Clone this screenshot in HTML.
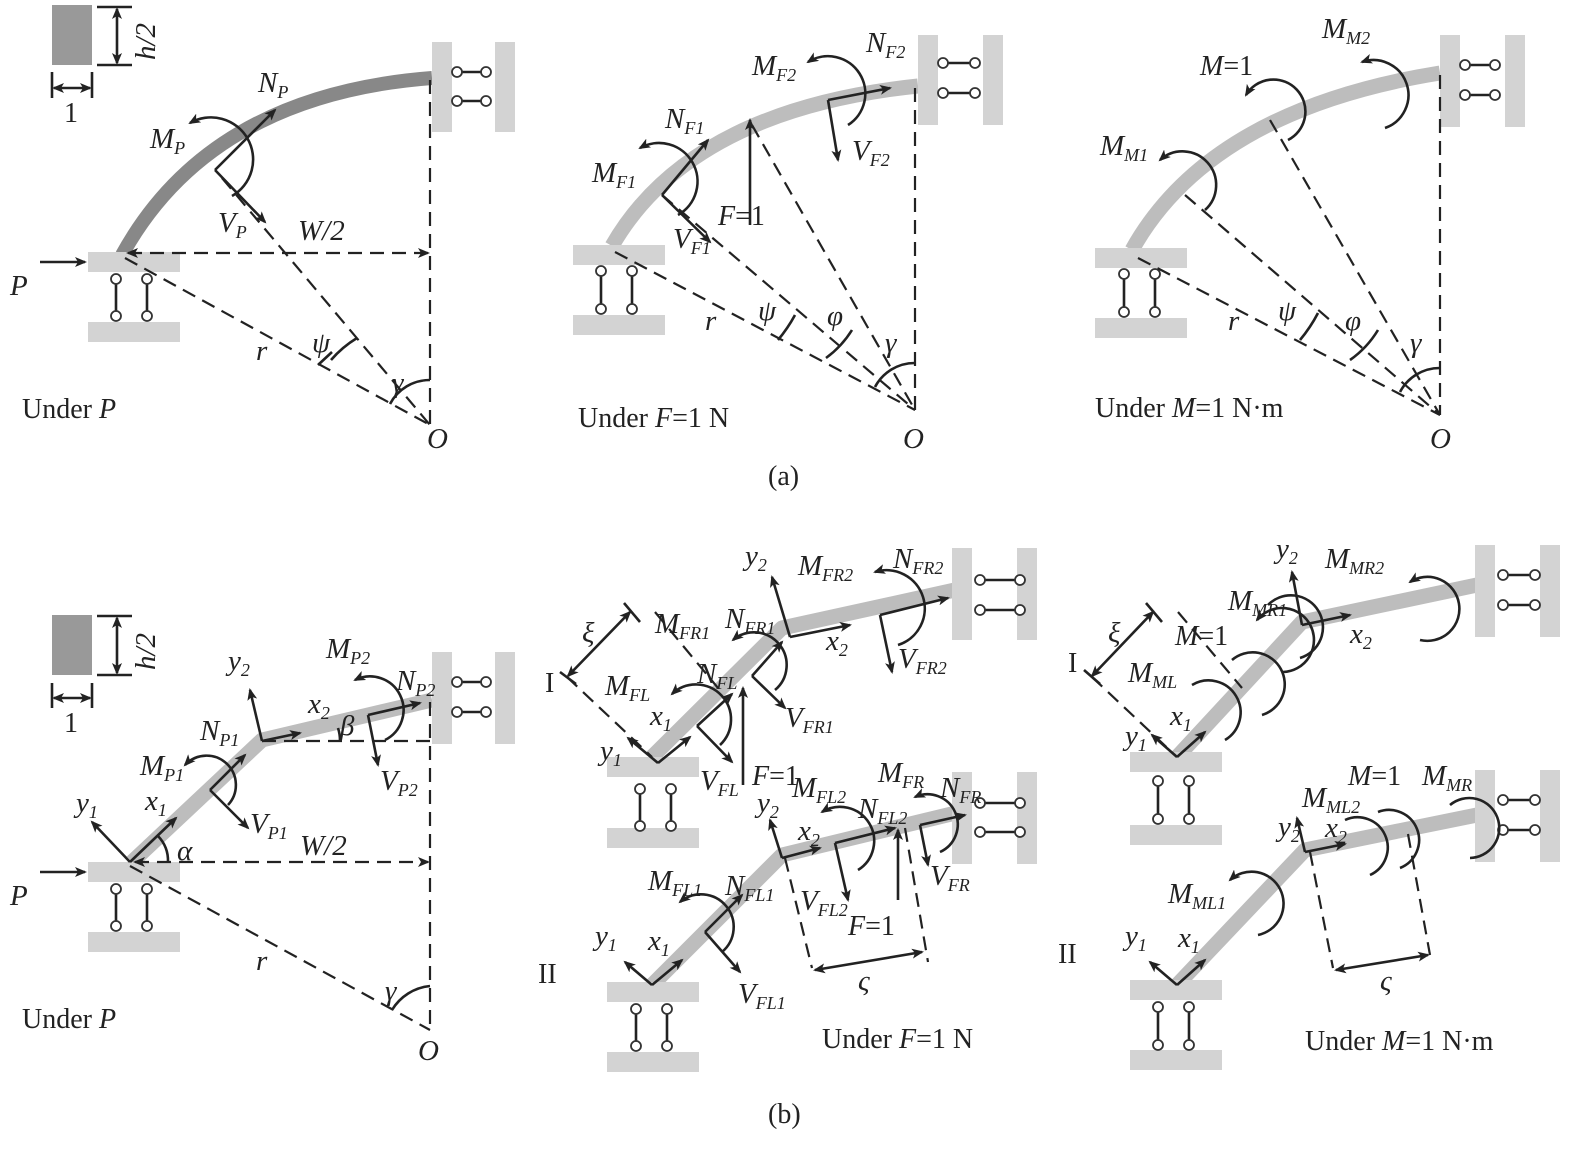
<!DOCTYPE html>
<html><head><meta charset="utf-8"><style>
body{margin:0;background:#fff}
svg{display:block}
.t{font-family:"Liberation Serif",serif;font-style:italic;font-size:29px;fill:#222}
.u{font-family:"Liberation Serif",serif;font-size:28px;fill:#222}
.s{font-size:18px}
.d{stroke:#222;stroke-width:2.2;stroke-dasharray:14 8;fill:none}
.l{stroke:#222;stroke-width:2.6;fill:none}
.g{fill:#d3d3d3}
.c{fill:#fff;stroke:#333;stroke-width:1.8}
.beam{stroke:#bdbdbd;stroke-width:15;fill:none;stroke-linejoin:round}
</style></head><body>
<svg width="1582" height="1150" viewBox="0 0 1582 1150" xmlns="http://www.w3.org/2000/svg">
<defs>
<marker id="a" markerWidth="12" markerHeight="10" refX="10" refY="5" orient="auto" markerUnits="userSpaceOnUse"><path d="M0,0 L12,5 L0,10 L3,5z" fill="#222"/></marker>
<marker id="b" markerWidth="12" markerHeight="10" refX="2" refY="5" orient="auto" markerUnits="userSpaceOnUse"><path d="M12,0 L0,5 L12,10 L9,5z" fill="#222"/></marker>
</defs>

<!-- ===== (a) left ===== -->
<rect x="52" y="5" width="40" height="60" fill="#999"/>
<line x1="97" y1="7" x2="132" y2="7" class="l" stroke-width="2"/><line x1="97" y1="65" x2="132" y2="65" class="l" stroke-width="2"/>
<line x1="117" y1="9" x2="117" y2="63" class="l" marker-start="url(#b)" marker-end="url(#a)" stroke-width="2"/>
<text class="t" transform="translate(155,60) rotate(-90)">h/2</text>
<line x1="52" y1="72" x2="52" y2="98" class="l" stroke-width="2"/><line x1="92" y1="72" x2="92" y2="98" class="l" stroke-width="2"/>
<line x1="54" y1="88" x2="90" y2="88" class="l" stroke-width="2" marker-start="url(#b)" marker-end="url(#a)"/>
<text class="u" x="64" y="122">1</text>
<path d="M122,255 Q210,95 432,78" stroke="#888" stroke-width="14" fill="none"/>
<rect x="88" y="252" width="92" height="20" class="g"/><rect x="88" y="322" width="92" height="20" class="g"/>
<line x1="116" y1="280" x2="116" y2="315" class="l" stroke-width="2"/><line x1="147" y1="280" x2="147" y2="315" class="l" stroke-width="2"/>
<circle cx="116" cy="279" r="5" class="c"/><circle cx="147" cy="279" r="5" class="c"/><circle cx="116" cy="316" r="5" class="c"/><circle cx="147" cy="316" r="5" class="c"/>
<rect x="432" y="42" width="20" height="90" class="g"/><rect x="495" y="42" width="20" height="90" class="g"/>
<line x1="457" y1="72" x2="486" y2="72" class="l" stroke-width="2"/><line x1="457" y1="101" x2="486" y2="101" class="l" stroke-width="2"/>
<circle cx="457" cy="72" r="5" class="c"/><circle cx="486" cy="72" r="5" class="c"/><circle cx="457" cy="101" r="5" class="c"/><circle cx="486" cy="101" r="5" class="c"/>
<line x1="430" y1="80" x2="430" y2="425" class="d"/>
<line x1="128" y1="253" x2="428" y2="253" class="d" marker-start="url(#b)" marker-end="url(#a)"/>
<line x1="125" y1="258" x2="430" y2="425" class="d"/>
<line x1="222" y1="178" x2="430" y2="425" class="d"/>
<line x1="40" y1="262" x2="85" y2="262" class="l" marker-end="url(#a)"/>
<text class="t" x="10" y="295">P</text>
<line x1="215" y1="170" x2="275" y2="110" class="l" marker-end="url(#a)"/>
<line x1="215" y1="170" x2="265" y2="222" class="l" marker-end="url(#a)"/>
<path d="M232,196 A30,30 0 1,0 190,123" class="l" marker-end="url(#a)"/>
<text class="t" x="258" y="92">N<tspan class="s" dy="6">P</tspan></text>
<text class="t" x="150" y="148">M<tspan class="s" dy="6">P</tspan></text>
<text class="t" x="218" y="232">V<tspan class="s" dy="6">P</tspan></text>
<text class="t" x="298" y="240">W/2</text>
<text class="t" x="256" y="360">r</text>
<text class="t" x="312" y="352">ψ</text>
<text class="t" x="392" y="392">γ</text>
<line x1="318" y1="365" x2="332" y2="352" class="l"/>
<path d="M331,360 A110,110 0 0,1 357,338" class="l"/>
<path d="M390,404 A45,45 0 0,1 430,380" class="l"/>
<text class="t" x="427" y="448">O</text>
<text class="u" x="22" y="418">Under <tspan font-style="italic">P</tspan></text>

<!-- ===== (a) middle ===== -->
<path d="M612,246 Q690,110 918,86" class="beam"/>
<rect x="573" y="245" width="92" height="20" class="g"/><rect x="573" y="315" width="92" height="20" class="g"/>
<line x1="601" y1="272" x2="601" y2="308" class="l" stroke-width="2"/><line x1="632" y1="272" x2="632" y2="308" class="l" stroke-width="2"/>
<circle cx="601" cy="271" r="5" class="c"/><circle cx="632" cy="271" r="5" class="c"/><circle cx="601" cy="309" r="5" class="c"/><circle cx="632" cy="309" r="5" class="c"/>
<rect x="918" y="35" width="20" height="90" class="g"/><rect x="983" y="35" width="20" height="90" class="g"/>
<line x1="943" y1="63" x2="975" y2="63" class="l" stroke-width="2"/><line x1="943" y1="93" x2="975" y2="93" class="l" stroke-width="2"/>
<circle cx="943" cy="63" r="5" class="c"/><circle cx="975" cy="63" r="5" class="c"/><circle cx="943" cy="93" r="5" class="c"/><circle cx="975" cy="93" r="5" class="c"/>
<line x1="915" y1="88" x2="915" y2="410" class="d"/>
<line x1="615" y1="252" x2="915" y2="410" class="d"/>
<line x1="662" y1="195" x2="915" y2="410" class="d"/>
<line x1="752" y1="125" x2="915" y2="410" class="d"/>
<line x1="662" y1="195" x2="708" y2="140" class="l" marker-end="url(#a)"/>
<line x1="662" y1="195" x2="710" y2="242" class="l" marker-end="url(#a)"/>
<path d="M678,215 A26,26 0 1,0 640,148" class="l" marker-end="url(#a)"/>
<line x1="750" y1="225" x2="750" y2="120" class="l" marker-end="url(#a)"/>
<line x1="828" y1="100" x2="890" y2="88" class="l" marker-end="url(#a)"/>
<line x1="828" y1="100" x2="838" y2="160" class="l" marker-end="url(#a)"/>
<path d="M848,125 A30,30 0 1,0 808,62" class="l" marker-end="url(#a)"/>
<text class="t" x="665" y="128">N<tspan class="s" dy="6">F1</tspan></text>
<text class="t" x="592" y="182">M<tspan class="s" dy="6">F1</tspan></text>
<text class="t" x="673" y="248">V<tspan class="s" dy="6">F1</tspan></text>
<text class="u" x="718" y="225"><tspan font-style="italic">F</tspan>=1</text>
<text class="t" x="752" y="75">M<tspan class="s" dy="6">F2</tspan></text>
<text class="t" x="866" y="52">N<tspan class="s" dy="6">F2</tspan></text>
<text class="t" x="852" y="160">V<tspan class="s" dy="6">F2</tspan></text>
<text class="t" x="705" y="330">r</text>
<text class="t" x="758" y="320">ψ</text>
<text class="t" x="827" y="325">φ</text>
<text class="t" x="885" y="352">γ</text>
<path d="M778,340 A150,150 0 0,0 795,315" class="l"/>
<path d="M826,358 A100,100 0 0,0 852,330" class="l"/>
<path d="M875,387 A45,45 0 0,1 915,363" class="l"/>
<text class="t" x="903" y="448">O</text>
<text class="u" x="578" y="427">Under <tspan font-style="italic">F</tspan>=1 N</text>
<text class="u" x="768" y="485">(a)</text>

<!-- ===== (a) right ===== -->
<path d="M1132,250 Q1210,110 1440,73" class="beam"/>
<rect x="1095" y="248" width="92" height="20" class="g"/><rect x="1095" y="318" width="92" height="20" class="g"/>
<line x1="1124" y1="275" x2="1124" y2="311" class="l" stroke-width="2"/><line x1="1155" y1="275" x2="1155" y2="311" class="l" stroke-width="2"/>
<circle cx="1124" cy="274" r="5" class="c"/><circle cx="1155" cy="274" r="5" class="c"/><circle cx="1124" cy="312" r="5" class="c"/><circle cx="1155" cy="312" r="5" class="c"/>
<rect x="1440" y="35" width="20" height="92" class="g"/><rect x="1505" y="35" width="20" height="92" class="g"/>
<line x1="1465" y1="65" x2="1495" y2="65" class="l" stroke-width="2"/><line x1="1465" y1="95" x2="1495" y2="95" class="l" stroke-width="2"/>
<circle cx="1465" cy="65" r="5" class="c"/><circle cx="1495" cy="65" r="5" class="c"/><circle cx="1465" cy="95" r="5" class="c"/><circle cx="1495" cy="95" r="5" class="c"/>
<line x1="1440" y1="75" x2="1440" y2="415" class="d"/>
<line x1="1138" y1="258" x2="1440" y2="415" class="d"/>
<line x1="1185" y1="195" x2="1440" y2="415" class="d"/>
<line x1="1270" y1="120" x2="1440" y2="415" class="d"/>
<path d="M1205,210 A32,32 0 1,0 1160,160" class="l" marker-end="url(#a)"/>
<path d="M1288,140 A32,32 0 1,0 1246,95" class="l" marker-end="url(#a)"/>
<path d="M1385,128 A32,32 0 1,0 1362,62" class="l" marker-end="url(#a)"/>
<text class="t" x="1100" y="155">M<tspan class="s" dy="6">M1</tspan></text>
<text class="u" x="1200" y="75"><tspan font-style="italic">M</tspan>=1</text>
<text class="t" x="1322" y="38">M<tspan class="s" dy="6">M2</tspan></text>
<text class="t" x="1228" y="330">r</text>
<text class="t" x="1278" y="320">ψ</text>
<text class="t" x="1345" y="330">φ</text>
<text class="t" x="1410" y="352">γ</text>
<path d="M1300,340 A150,150 0 0,0 1318,313" class="l"/>
<path d="M1350,360 A100,100 0 0,0 1378,330" class="l"/>
<path d="M1400,392 A45,45 0 0,1 1440,368" class="l"/>
<text class="t" x="1430" y="448">O</text>
<text class="u" x="1095" y="417">Under <tspan font-style="italic">M</tspan>=1 N·m</text>

<!-- ===== (b) left ===== -->
<rect x="52" y="615" width="40" height="60" fill="#999"/>
<line x1="97" y1="616" x2="132" y2="616" class="l" stroke-width="2"/><line x1="97" y1="675" x2="132" y2="675" class="l" stroke-width="2"/>
<line x1="117" y1="618" x2="117" y2="673" class="l" marker-start="url(#b)" marker-end="url(#a)" stroke-width="2"/>
<text class="t" transform="translate(155,670) rotate(-90)">h/2</text>
<line x1="52" y1="683" x2="52" y2="708" class="l" stroke-width="2"/><line x1="92" y1="683" x2="92" y2="708" class="l" stroke-width="2"/>
<line x1="54" y1="698" x2="90" y2="698" class="l" stroke-width="2" marker-start="url(#b)" marker-end="url(#a)"/>
<text class="u" x="64" y="732">1</text>
<polyline points="132,862 262,740 432,700" class="beam"/>
<rect x="88" y="862" width="92" height="20" class="g"/><rect x="88" y="932" width="92" height="20" class="g"/>
<line x1="116" y1="890" x2="116" y2="925" class="l" stroke-width="2"/><line x1="147" y1="890" x2="147" y2="925" class="l" stroke-width="2"/>
<circle cx="116" cy="889" r="5" class="c"/><circle cx="147" cy="889" r="5" class="c"/><circle cx="116" cy="926" r="5" class="c"/><circle cx="147" cy="926" r="5" class="c"/>
<rect x="432" y="652" width="20" height="92" class="g"/><rect x="495" y="652" width="20" height="92" class="g"/>
<line x1="457" y1="682" x2="486" y2="682" class="l" stroke-width="2"/><line x1="457" y1="712" x2="486" y2="712" class="l" stroke-width="2"/>
<circle cx="457" cy="682" r="5" class="c"/><circle cx="486" cy="682" r="5" class="c"/><circle cx="457" cy="712" r="5" class="c"/><circle cx="486" cy="712" r="5" class="c"/>
<line x1="430" y1="702" x2="430" y2="1030" class="d"/>
<line x1="262" y1="741" x2="430" y2="741" class="d"/>
<line x1="135" y1="862" x2="428" y2="862" class="d" marker-start="url(#b)" marker-end="url(#a)"/>
<line x1="130" y1="866" x2="430" y2="1030" class="d"/>
<line x1="40" y1="872" x2="85" y2="872" class="l" marker-end="url(#a)"/>
<text class="t" x="10" y="905">P</text>
<line x1="130" y1="862" x2="176" y2="818" class="l" marker-end="url(#a)"/>
<line x1="130" y1="862" x2="92" y2="822" class="l" marker-end="url(#a)"/>
<path d="M168,862 A36,36 0 0,0 158,836" class="l"/>
<text class="t" x="177" y="860">α</text>
<line x1="262" y1="741" x2="300" y2="733" class="l" marker-end="url(#a)"/>
<line x1="262" y1="741" x2="250" y2="690" class="l" marker-end="url(#a)"/>
<line x1="210" y1="790" x2="245" y2="755" class="l" marker-end="url(#a)"/>
<line x1="210" y1="790" x2="248" y2="828" class="l" marker-end="url(#a)"/>
<path d="M228,805 A28,28 0 1,0 185,765" class="l" marker-end="url(#a)"/>
<line x1="368" y1="715" x2="420" y2="703" class="l" marker-end="url(#a)"/>
<line x1="368" y1="715" x2="378" y2="765" class="l" marker-end="url(#a)"/>
<path d="M385,740 A28,28 0 1,0 355,680" class="l" marker-end="url(#a)"/>
<path d="M340,741 A40,40 0 0,0 338,728" class="l"/>
<text class="t" x="76" y="812">y<tspan class="s" dy="6">1</tspan></text>
<text class="t" x="145" y="810">x<tspan class="s" dy="6">1</tspan></text>
<text class="t" x="140" y="775">M<tspan class="s" dy="6">P1</tspan></text>
<text class="t" x="200" y="740">N<tspan class="s" dy="6">P1</tspan></text>
<text class="t" x="250" y="833">V<tspan class="s" dy="6">P1</tspan></text>
<text class="t" x="300" y="855">W/2</text>
<text class="t" x="228" y="670">y<tspan class="s" dy="6">2</tspan></text>
<text class="t" x="308" y="713">x<tspan class="s" dy="6">2</tspan></text>
<text class="t" x="340" y="735">β</text>
<text class="t" x="326" y="658">M<tspan class="s" dy="6">P2</tspan></text>
<text class="t" x="396" y="690">N<tspan class="s" dy="6">P2</tspan></text>
<text class="t" x="380" y="790">V<tspan class="s" dy="6">P2</tspan></text>
<text class="t" x="256" y="970">r</text>
<text class="t" x="385" y="1000">γ</text>
<path d="M392,1010 A50,50 0 0,1 430,986" class="l"/>
<text class="t" x="418" y="1060">O</text>
<text class="u" x="22" y="1028">Under <tspan font-style="italic">P</tspan></text>

<!-- ===== (b) middle top ===== -->
<polyline points="652,757 782,628 955,590" class="beam"/>
<rect x="607" y="757" width="92" height="20" class="g"/><rect x="607" y="828" width="92" height="20" class="g"/>
<line x1="640" y1="790" x2="640" y2="825" class="l" stroke-width="2"/><line x1="671" y1="790" x2="671" y2="825" class="l" stroke-width="2"/>
<circle cx="640" cy="789" r="5" class="c"/><circle cx="671" cy="789" r="5" class="c"/><circle cx="640" cy="826" r="5" class="c"/><circle cx="671" cy="826" r="5" class="c"/>
<rect x="952" y="548" width="20" height="92" class="g"/><rect x="1017" y="548" width="20" height="92" class="g"/>
<line x1="980" y1="580" x2="1020" y2="580" class="l" stroke-width="2"/><line x1="980" y1="610" x2="1020" y2="610" class="l" stroke-width="2"/>
<circle cx="980" cy="580" r="5" class="c"/><circle cx="1020" cy="580" r="5" class="c"/><circle cx="980" cy="610" r="5" class="c"/><circle cx="1020" cy="610" r="5" class="c"/>
<line x1="567" y1="677" x2="652" y2="757" class="d"/>
<line x1="655" y1="612" x2="718" y2="688" class="d"/>
<line x1="568" y1="676" x2="630" y2="612" class="l" marker-start="url(#b)" marker-end="url(#a)"/>
<line x1="560" y1="672" x2="576" y2="684" class="l"/><line x1="624" y1="603" x2="640" y2="622" class="l"/>
<text class="t" x="582" y="642">ξ</text>
<text class="u" x="545" y="692">I</text>
<line x1="658" y1="763" x2="690" y2="737" class="l" marker-end="url(#a)"/>
<line x1="658" y1="763" x2="628" y2="738" class="l" marker-end="url(#a)"/>
<line x1="697" y1="726" x2="732" y2="694" class="l" marker-end="url(#a)"/>
<line x1="697" y1="726" x2="732" y2="762" class="l" marker-end="url(#a)"/>
<path d="M720,745 A30,30 0 1,0 672,694" class="l" marker-end="url(#a)"/>
<line x1="743" y1="785" x2="743" y2="688" class="l" marker-end="url(#a)"/>
<line x1="752" y1="676" x2="782" y2="642" class="l" marker-end="url(#a)"/>
<line x1="752" y1="676" x2="785" y2="708" class="l" marker-end="url(#a)"/>
<path d="M775,690 A30,30 0 1,0 733,640" class="l" marker-end="url(#a)"/>
<line x1="790" y1="637" x2="850" y2="625" class="l" marker-end="url(#a)"/>
<line x1="790" y1="637" x2="772" y2="577" class="l" marker-end="url(#a)"/>
<line x1="880" y1="615" x2="948" y2="598" class="l" marker-end="url(#a)"/>
<line x1="880" y1="615" x2="892" y2="672" class="l" marker-end="url(#a)"/>
<path d="M898,645 A30,30 0 1,0 875,572" class="l" marker-end="url(#a)"/>
<text class="t" x="600" y="760">y<tspan class="s" dy="6">1</tspan></text>
<text class="t" x="650" y="725">x<tspan class="s" dy="6">1</tspan></text>
<text class="t" x="605" y="695">M<tspan class="s" dy="6">FL</tspan></text>
<text class="t" x="700" y="790">V<tspan class="s" dy="6">FL</tspan></text>
<text class="u" x="752" y="785"><tspan font-style="italic">F</tspan>=1</text>
<text class="t" x="697" y="683">N<tspan class="s" dy="6">FL</tspan></text>
<text class="t" x="655" y="633">M<tspan class="s" dy="6">FR1</tspan></text>
<text class="t" x="725" y="628">N<tspan class="s" dy="6">FR1</tspan></text>
<text class="t" x="785" y="727">V<tspan class="s" dy="6">FR1</tspan></text>
<text class="t" x="745" y="565">y<tspan class="s" dy="6">2</tspan></text>
<text class="t" x="826" y="650">x<tspan class="s" dy="6">2</tspan></text>
<text class="t" x="798" y="575">M<tspan class="s" dy="6">FR2</tspan></text>
<text class="t" x="893" y="568">N<tspan class="s" dy="6">FR2</tspan></text>
<text class="t" x="898" y="668">V<tspan class="s" dy="6">FR2</tspan></text>

<!-- ===== (b) middle bottom ===== -->
<polyline points="652,985 782,855 968,810" class="beam"/>
<rect x="607" y="982" width="92" height="20" class="g"/><rect x="607" y="1052" width="92" height="20" class="g"/>
<line x1="636" y1="1010" x2="636" y2="1045" class="l" stroke-width="2"/><line x1="667" y1="1010" x2="667" y2="1045" class="l" stroke-width="2"/>
<circle cx="636" cy="1009" r="5" class="c"/><circle cx="667" cy="1009" r="5" class="c"/><circle cx="636" cy="1046" r="5" class="c"/><circle cx="667" cy="1046" r="5" class="c"/>
<rect x="952" y="772" width="20" height="92" class="g"/><rect x="1017" y="772" width="20" height="92" class="g"/>
<line x1="980" y1="803" x2="1020" y2="803" class="l" stroke-width="2"/><line x1="980" y1="832" x2="1020" y2="832" class="l" stroke-width="2"/>
<circle cx="980" cy="803" r="5" class="c"/><circle cx="1020" cy="803" r="5" class="c"/><circle cx="980" cy="832" r="5" class="c"/><circle cx="1020" cy="832" r="5" class="c"/>
<line x1="652" y1="985" x2="682" y2="960" class="l" marker-end="url(#a)"/>
<line x1="652" y1="985" x2="625" y2="962" class="l" marker-end="url(#a)"/>
<line x1="705" y1="932" x2="740" y2="972" class="l" marker-end="url(#a)"/>
<line x1="705" y1="932" x2="742" y2="895" class="l" marker-end="url(#a)"/>
<path d="M722,952 A30,30 0 1,0 680,902" class="l" marker-end="url(#a)"/>
<line x1="782" y1="858" x2="820" y2="848" class="l" marker-end="url(#a)"/>
<line x1="782" y1="858" x2="770" y2="820" class="l" marker-end="url(#a)"/>
<line x1="835" y1="843" x2="848" y2="900" class="l" marker-end="url(#a)"/>
<line x1="835" y1="843" x2="895" y2="828" class="l" marker-end="url(#a)"/>
<path d="M858,870 A30,30 0 1,0 822,812" class="l" marker-end="url(#a)"/>
<line x1="898" y1="900" x2="898" y2="830" class="l" marker-end="url(#a)"/>
<line x1="920" y1="825" x2="965" y2="815" class="l" marker-end="url(#a)"/>
<line x1="920" y1="825" x2="928" y2="865" class="l" marker-end="url(#a)"/>
<path d="M940,852 A30,30 0 1,0 915,797" class="l" marker-end="url(#a)"/>
<line x1="785" y1="858" x2="812" y2="968" class="d"/>
<line x1="905" y1="828" x2="928" y2="962" class="d"/>
<line x1="815" y1="970" x2="922" y2="952" class="l" marker-start="url(#b)" marker-end="url(#a)"/>
<text class="t" x="858" y="990">ς</text>
<text class="u" x="538" y="983">II</text>
<text class="t" x="595" y="945">y<tspan class="s" dy="6">1</tspan></text>
<text class="t" x="648" y="950">x<tspan class="s" dy="6">1</tspan></text>
<text class="t" x="648" y="890">M<tspan class="s" dy="6">FL1</tspan></text>
<text class="t" x="725" y="895">N<tspan class="s" dy="6">FL1</tspan></text>
<text class="t" x="738" y="1003">V<tspan class="s" dy="6">FL1</tspan></text>
<text class="t" x="757" y="812">y<tspan class="s" dy="6">2</tspan></text>
<text class="t" x="798" y="840">x<tspan class="s" dy="6">2</tspan></text>
<text class="t" x="792" y="797">M<tspan class="s" dy="6">FL2</tspan></text>
<text class="t" x="858" y="818">N<tspan class="s" dy="6">FL2</tspan></text>
<text class="t" x="800" y="910">V<tspan class="s" dy="6">FL2</tspan></text>
<text class="u" x="848" y="935"><tspan font-style="italic">F</tspan>=1</text>
<text class="t" x="878" y="782">M<tspan class="s" dy="6">FR</tspan></text>
<text class="t" x="940" y="797">N<tspan class="s" dy="6">FR</tspan></text>
<text class="t" x="930" y="885">V<tspan class="s" dy="6">FR</tspan></text>
<text class="u" x="822" y="1048">Under <tspan font-style="italic">F</tspan>=1 N</text>
<text class="u" x="768" y="1123">(b)</text>

<!-- ===== (b) right top ===== -->
<polyline points="1177,757 1302,622 1477,585" class="beam"/>
<rect x="1130" y="752" width="92" height="20" class="g"/><rect x="1130" y="825" width="92" height="20" class="g"/>
<line x1="1158" y1="782" x2="1158" y2="818" class="l" stroke-width="2"/><line x1="1189" y1="782" x2="1189" y2="818" class="l" stroke-width="2"/>
<circle cx="1158" cy="781" r="5" class="c"/><circle cx="1189" cy="781" r="5" class="c"/><circle cx="1158" cy="819" r="5" class="c"/><circle cx="1189" cy="819" r="5" class="c"/>
<rect x="1475" y="545" width="20" height="92" class="g"/><rect x="1540" y="545" width="20" height="92" class="g"/>
<line x1="1503" y1="575" x2="1535" y2="575" class="l" stroke-width="2"/><line x1="1503" y1="605" x2="1535" y2="605" class="l" stroke-width="2"/>
<circle cx="1503" cy="575" r="5" class="c"/><circle cx="1535" cy="575" r="5" class="c"/><circle cx="1503" cy="605" r="5" class="c"/><circle cx="1535" cy="605" r="5" class="c"/>
<line x1="1092" y1="677" x2="1177" y2="757" class="d"/>
<line x1="1178" y1="612" x2="1242" y2="688" class="d"/>
<line x1="1092" y1="676" x2="1153" y2="612" class="l" marker-start="url(#b)" marker-end="url(#a)"/>
<line x1="1084" y1="670" x2="1100" y2="684" class="l"/><line x1="1146" y1="603" x2="1162" y2="622" class="l"/>
<text class="t" x="1108" y="642">ξ</text>
<text class="u" x="1068" y="672">I</text>
<line x1="1177" y1="757" x2="1205" y2="732" class="l" marker-end="url(#a)"/>
<line x1="1177" y1="757" x2="1152" y2="735" class="l" marker-end="url(#a)"/>
<line x1="1302" y1="625" x2="1350" y2="615" class="l" marker-end="url(#a)"/>
<line x1="1302" y1="625" x2="1292" y2="572" class="l" marker-end="url(#a)"/>
<path d="M1225,740 A32,32 0 1,0 1192,685" class="l"/>
<path d="M1262,715 A32,32 0 1,0 1232,660" class="l"/>
<path d="M1283,672 A32,32 0 1,0 1257,620" class="l" marker-end="url(#a)"/>
<path d="M1300,658 A32,32 0 1,0 1268,605" class="l"/>
<path d="M1420,640 A32,32 0 1,0 1410,582" class="l" marker-end="url(#a)"/>
<text class="t" x="1125" y="745">y<tspan class="s" dy="6">1</tspan></text>
<text class="t" x="1170" y="725">x<tspan class="s" dy="6">1</tspan></text>
<text class="t" x="1128" y="682">M<tspan class="s" dy="6">ML</tspan></text>
<text class="u" x="1175" y="645"><tspan font-style="italic">M</tspan>=1</text>
<text class="t" x="1228" y="610">M<tspan class="s" dy="6">MR1</tspan></text>
<text class="t" x="1276" y="558">y<tspan class="s" dy="6">2</tspan></text>
<text class="t" x="1350" y="643">x<tspan class="s" dy="6">2</tspan></text>
<text class="t" x="1325" y="568">M<tspan class="s" dy="6">MR2</tspan></text>

<!-- ===== (b) right bottom ===== -->
<polyline points="1177,985 1305,850 1477,815" class="beam"/>
<rect x="1130" y="980" width="92" height="20" class="g"/><rect x="1130" y="1050" width="92" height="20" class="g"/>
<line x1="1158" y1="1008" x2="1158" y2="1044" class="l" stroke-width="2"/><line x1="1189" y1="1008" x2="1189" y2="1044" class="l" stroke-width="2"/>
<circle cx="1158" cy="1007" r="5" class="c"/><circle cx="1189" cy="1007" r="5" class="c"/><circle cx="1158" cy="1045" r="5" class="c"/><circle cx="1189" cy="1045" r="5" class="c"/>
<rect x="1475" y="770" width="20" height="92" class="g"/><rect x="1540" y="770" width="20" height="92" class="g"/>
<line x1="1503" y1="800" x2="1535" y2="800" class="l" stroke-width="2"/><line x1="1503" y1="830" x2="1535" y2="830" class="l" stroke-width="2"/>
<circle cx="1503" cy="800" r="5" class="c"/><circle cx="1535" cy="800" r="5" class="c"/><circle cx="1503" cy="830" r="5" class="c"/><circle cx="1535" cy="830" r="5" class="c"/>
<line x1="1177" y1="985" x2="1205" y2="960" class="l" marker-end="url(#a)"/>
<line x1="1177" y1="985" x2="1150" y2="962" class="l" marker-end="url(#a)"/>
<line x1="1305" y1="852" x2="1345" y2="844" class="l" marker-end="url(#a)"/>
<line x1="1305" y1="852" x2="1297" y2="818" class="l" marker-end="url(#a)"/>
<path d="M1258,935 A32,32 0 1,0 1230,880" class="l" marker-end="url(#a)"/>
<path d="M1370,875 A30,30 0 1,0 1345,820" class="l"/>
<path d="M1400,868 A30,30 0 1,0 1378,812" class="l"/>
<path d="M1470,858 A30,30 0 1,0 1450,805" class="l"/>
<line x1="1310" y1="852" x2="1333" y2="968" class="d"/>
<line x1="1408" y1="834" x2="1430" y2="955" class="d"/>
<line x1="1336" y1="970" x2="1428" y2="955" class="l" marker-start="url(#b)" marker-end="url(#a)"/>
<text class="t" x="1380" y="990">ς</text>
<text class="u" x="1058" y="963">II</text>
<text class="t" x="1125" y="945">y<tspan class="s" dy="6">1</tspan></text>
<text class="t" x="1178" y="947">x<tspan class="s" dy="6">1</tspan></text>
<text class="t" x="1168" y="903">M<tspan class="s" dy="6">ML1</tspan></text>
<text class="t" x="1278" y="836">y<tspan class="s" dy="6">2</tspan></text>
<text class="t" x="1325" y="837">x<tspan class="s" dy="6">2</tspan></text>
<text class="t" x="1302" y="807">M<tspan class="s" dy="6">ML2</tspan></text>
<text class="u" x="1348" y="785"><tspan font-style="italic">M</tspan>=1</text>
<text class="t" x="1422" y="785">M<tspan class="s" dy="6">MR</tspan></text>
<text class="u" x="1305" y="1050">Under <tspan font-style="italic">M</tspan>=1 N·m</text>
</svg>
</body></html>
